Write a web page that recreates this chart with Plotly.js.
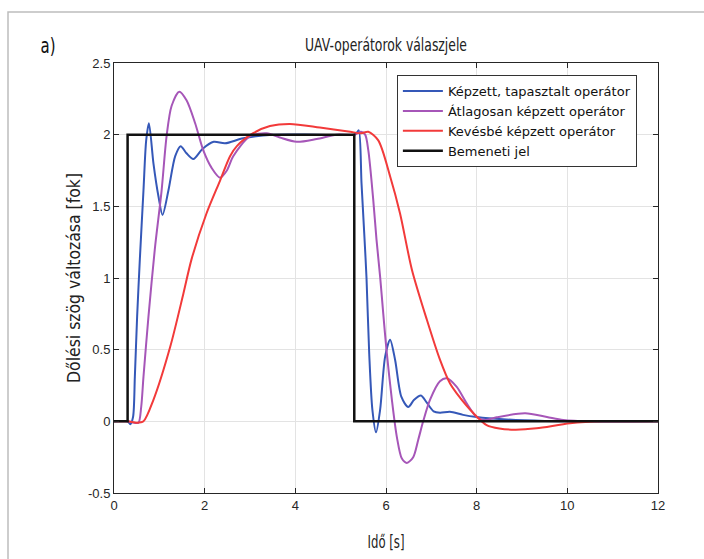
<!DOCTYPE html>
<html>
<head>
<meta charset="utf-8">
<script src="https://cdn.plot.ly/plotly-3.0.1.min.js"></script>
<style>
html,body{margin:0;padding:0;background:#fff;}
#chart{width:704px;height:559px;}
</style>
</head>
<body>
<div id="chart"></div>
<script>
// Legend names
const seriesNames = ["Képzett, tapasztalt operátor", "Átlagosan képzett operátor", "Kevésbé képzett operátor", "Bemeneti jel"];

// Trained, experienced operator (blue)
const tBlue = [0, 0.3, 0.36, 0.42, 0.46, 0.51, 0.57, 0.65, 0.71, 0.77, 0.87, 0.98, 1.07, 1.2, 1.35, 1.47, 1.6, 1.75, 1.95, 2.2, 2.45, 2.85, 3.5, 4.5, 5.3, 5.35, 5.4, 5.46, 5.52, 5.57, 5.63, 5.7, 5.78, 5.87, 5.98, 6.09, 6.2, 6.34, 6.49, 6.62, 6.77, 6.9, 7.05, 7.19, 7.41, 7.7, 8.0, 8.58, 9.5, 12];
const vBlue = [0, 0, -0.02, 0.03, 0.31, 0.73, 1.13, 1.61, 1.96, 2.08, 1.8, 1.57, 1.44, 1.61, 1.85, 1.92, 1.87, 1.83, 1.9, 1.95, 1.94, 1.975, 2.0, 2.0, 2.0, 2.01, 2.03, 1.66, 1.31, 1.0, 0.47, 0.08, -0.077, 0.08, 0.45, 0.57, 0.43, 0.17, 0.10, 0.15, 0.18, 0.13, 0.07, 0.06, 0.067, 0.045, 0.03, 0.014, 0.003, 0];

// Average trained operator (purple)
const tPurple = [0, 0.3, 0.45, 0.54, 0.6, 0.65, 0.76, 0.9, 1.05, 1.16, 1.27, 1.44, 1.6, 1.79, 1.97, 2.15, 2.34, 2.49, 2.63, 3.0, 3.37, 3.66, 4.03, 4.47, 4.91, 5.3, 5.45, 5.54, 5.61, 5.72, 5.79, 5.87, 5.94, 6.01, 6.13, 6.24, 6.35, 6.46, 6.6, 6.71, 6.82, 6.97, 7.19, 7.34, 7.56, 7.78, 8.0, 8.2, 8.44, 9.07, 9.55, 9.91, 10.5, 12];
const vPurple = [0, 0, -0.01, -0.01, 0.1, 0.31, 0.73, 1.2, 1.61, 1.99, 2.2, 2.30, 2.24, 2.08, 1.89, 1.77, 1.70, 1.75, 1.85, 1.99, 2.01, 1.98, 1.95, 1.97, 2.0, 2.0, 2.02, 2.0, 1.89, 1.54, 1.27, 1.01, 0.75, 0.5, 0.15, -0.11, -0.26, -0.29, -0.25, -0.13, 0, 0.15, 0.28, 0.30, 0.24, 0.125, 0.03, 0.01, 0.028, 0.056, 0.03, 0.01, 0, 0];

// Less trained operator (red)
const tRed = [0, 0.3, 0.5, 0.65, 0.87, 1.24, 1.53, 1.71, 2.04, 2.34, 2.56, 2.71, 3.07, 3.44, 3.88, 4.54, 5.21, 5.45, 5.61, 5.83, 6.09, 6.31, 6.57, 6.9, 7.19, 7.41, 7.56, 7.93, 8.22, 8.5, 8.85, 9.32, 10.06, 10.8, 12];
const vRed = [0, 0, -0.01, 0, 0.15, 0.52, 0.89, 1.13, 1.45, 1.68, 1.85, 1.92, 2.01, 2.06, 2.075, 2.05, 2.02, 2.01, 2.02, 1.96, 1.71, 1.45, 1.06, 0.71, 0.43, 0.265, 0.195, 0.056, -0.026, -0.05, -0.058, -0.049, -0.014, 0, 0];

// Input signal (black step)
const tInput = [0, 0.3, 0.3, 5.3, 5.3, 12];
const vInput = [0, 0, 2, 2, 0, 0];

const xTicks = [0, 2, 4, 6, 8, 10, 12];
const yTicks = [-0.5, 0, 0.5, 1, 1.5, 2, 2.5];
const yTickText = ["-0.5", "0", "0.5", "1", "1.5", "2", "2.5"];

const condensed = "'DejaVu Sans', sans-serif";
const plain = "'Liberation Sans', Arial, Helvetica, sans-serif";
const legendFont = "'DejaVu Sans', 'Liberation Sans', sans-serif";

const traces = [
  {x: tBlue, y: vBlue, name: seriesNames[0], mode: 'lines', line: {color: '#3558b8', width: 2, shape: 'spline', smoothing: 0.8}},
  {x: tPurple, y: vPurple, name: seriesNames[1], mode: 'lines', line: {color: '#a656b8', width: 2, shape: 'spline', smoothing: 0.8}},
  {x: tRed, y: vRed, name: seriesNames[2], mode: 'lines', line: {color: '#f23a3a', width: 2, shape: 'spline', smoothing: 0.8}},
  {x: tInput, y: vInput, name: seriesNames[3], mode: 'lines', line: {color: '#111111', width: 2.5}}
];

const layout = {
  width: 704, height: 559,
  margin: {l: 114, r: 46, t: 63, b: 66},
  paper_bgcolor: '#ffffff', plot_bgcolor: '#ffffff',
  showlegend: true,
  title: {text: 'UAV-operátorok válaszjele', font: {family: condensed, size: 17, color: '#222'}, x: 0.5, xref: 'paper', xanchor: 'center', y: 1 - 45/559, yref: 'container', yanchor: 'middle'},
  xaxis: {
    range: [0, 12], tickvals: xTicks, ticktext: xTicks.map(String),
    showgrid: true, gridcolor: '#e3e3e3', gridwidth: 1, zeroline: false,
    showline: true, linecolor: '#262626', linewidth: 1, mirror: 'ticks',
    ticks: 'inside', ticklen: 5, tickcolor: '#262626',
    tickfont: {family: plain, size: 13, color: '#262626'},
    title: {text: 'Idő [s]', font: {family: condensed, size: 17, color: '#222'}, standoff: 24}
  },
  yaxis: {
    range: [-0.5, 2.5], tickvals: yTicks, ticktext: yTickText,
    showgrid: true, gridcolor: '#e3e3e3', gridwidth: 1, zeroline: false,
    showline: true, linecolor: '#262626', linewidth: 1, mirror: 'ticks',
    ticks: 'inside', ticklen: 5, tickcolor: '#262626',
    tickfont: {family: plain, size: 13, color: '#262626'},
    title: {text: 'Dőlési szög változása [fok]', font: {family: condensed, size: 17, color: '#222'}, standoff: 3}
  },
  legend: {
    x: 0.52, y: 0.972, xanchor: 'left', yanchor: 'top',
    bgcolor: '#ffffff', bordercolor: '#333333', borderwidth: 1,
    font: {family: legendFont, size: 13, color: '#111'},
    tracegroupgap: 0, itemwidth: 40
  },
  annotations: [
    {text: 'a)', xref: 'paper', yref: 'paper', x: (48 - 114) / 544, y: (493 - 45) / 430, xanchor: 'center', yanchor: 'middle', showarrow: false, font: {family: condensed, size: 22, color: '#111'}}
  ],
  shapes: [
    {type: 'path', xref: 'paper', yref: 'paper', path: 'M ' + ((8 - 114) / 544) + ' ' + ((493 - 580) / 430) + ' L ' + ((8 - 114) / 544) + ' ' + ((493 - 12) / 430) + ' L ' + ((720 - 114) / 544) + ' ' + ((493 - 12) / 430), line: {color: '#bdbdbd', width: 1.5}}
  ]
};

function squeeze(selector, width) {
  document.querySelectorAll(selector).forEach(function (el) {
    el.setAttribute('textLength', width);
    el.setAttribute('lengthAdjust', 'spacingAndGlyphs');
  });
}

Plotly.newPlot('chart', traces, layout, {displayModeBar: false, staticPlot: true}).then(function () {
  squeeze('.gtitle', 162);
  squeeze('.ytitle', 210);
  squeeze('.xtitle', 37);
  squeeze('.annotation-text', 15);
});
</script>
</body>
</html>
